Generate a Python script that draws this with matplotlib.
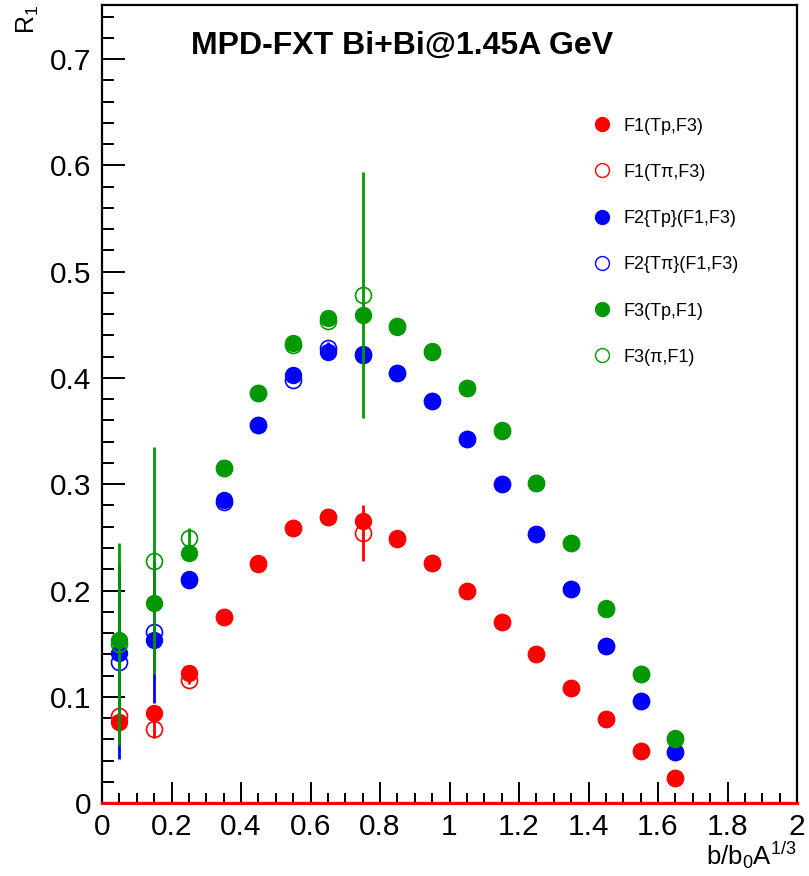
import matplotlib
matplotlib.use("Agg")
import matplotlib.pyplot as plt
from matplotlib.lines import Line2D
from matplotlib.ticker import MultipleLocator
import numpy as np

plt.rcParams['font.family'] = ['Liberation Sans', 'DejaVu Sans']
plt.rcParams['mathtext.fontset'] = 'custom'
plt.rcParams['mathtext.rm'] = 'Liberation Sans'
plt.rcParams['mathtext.it'] = 'Liberation Sans'

# centrality bins, b/b0A^(1/3)
b = [0.05, 0.15, 0.25, 0.35, 0.45, 0.55, 0.65, 0.75, 0.85,
     0.95, 1.05, 1.15, 1.25, 1.35, 1.45, 1.55, 1.65]

# F1 resolution
f1_tp = [0.076, 0.085, 0.122, 0.175, 0.226, 0.259, 0.269, 0.265, 0.249,
         0.226, 0.200, 0.170, 0.140, 0.108, 0.079, 0.049, 0.024]
f1_tpi = [0.082, 0.070, 0.116, 0.175, 0.225, 0.259, 0.269, 0.254, 0.248,
          0.226, 0.200, 0.170, 0.140, 0.108, 0.079, 0.049, 0.024]
f1_tpi_err = [0.004, 0.009, 0.004, 0.003, 0.003, 0.003, 0.003, 0.026, 0.003,
              0.003, 0.003, 0.003, 0.003, 0.003, 0.003, 0.003, 0.003]

# F2 resolution
f2_tp = [0.141, 0.153, 0.211, 0.285, 0.356, 0.403, 0.424, 0.423, 0.405,
         0.378, 0.343, 0.300, 0.253, 0.201, 0.148, 0.096, 0.048]
f2_tpi = [0.133, 0.161, 0.210, 0.283, 0.356, 0.398, 0.428, 0.422, 0.405,
          0.378, 0.343, 0.300, 0.253, 0.201, 0.148, 0.096, 0.048]
f2_tpi_err = [0.092, 0.067, 0.004, 0.003, 0.003, 0.003, 0.006, 0.003, 0.003,
              0.003, 0.003, 0.003, 0.003, 0.003, 0.003, 0.003, 0.003]

# F3 resolution
f3_tp = [0.153, 0.188, 0.235, 0.315, 0.386, 0.433, 0.456, 0.459, 0.448,
         0.425, 0.391, 0.351, 0.301, 0.245, 0.184, 0.121, 0.061]
f3_pi = [0.150, 0.228, 0.249, 0.315, 0.386, 0.431, 0.454, 0.478, 0.449,
         0.424, 0.391, 0.350, 0.301, 0.245, 0.183, 0.121, 0.060]
f3_pi_err = [0.095, 0.107, 0.010, 0.003, 0.003, 0.003, 0.004, 0.116, 0.003,
             0.003, 0.003, 0.003, 0.003, 0.003, 0.003, 0.003, 0.003]

labels = ['F1(Tp,F3)', 'F1(T\u03c0,F3)', 'F2{Tp}(F1,F3)',
          'F2{T\u03c0}(F1,F3)', 'F3(Tp,F1)', 'F3(\u03c0,F1)']

red, blue, green = '#ff0000', '#0000ff', '#009900'

fig = plt.figure(figsize=(8.09, 8.76), dpi=100)
ax = fig.add_axes([0.1261, 0.0833, 0.8591, 0.9110])

ms = 11.5
series = [
    (f1_tpi, f1_tpi_err, red, f1_tp),
    (f2_tpi, f2_tpi_err, blue, f2_tp),
    (f3_pi, f3_pi_err, green, f3_tp),
]
z = 3
for opn, err, c, fil in series:
    ax.errorbar(b, opn, yerr=err, fmt='o', ms=ms, mfc='none', mec=c, mew=1.2,
                ecolor=c, elinewidth=2, capsize=0, zorder=z)
    ax.plot(b, fil, 'o', ms=ms, color=c, mec=c, zorder=z + 1)
    z += 2

ax.axhline(0, color=red, lw=2.2, zorder=10, clip_on=False)

ax.set_xlim(0, 2)
ax.set_ylim(0, 0.751)
ax.xaxis.set_minor_locator(MultipleLocator(0.05))
ax.yaxis.set_minor_locator(MultipleLocator(0.02))
ax.set_xticks(np.arange(0, 2.01, 0.2))
ax.set_xticklabels(['0', '0.2', '0.4', '0.6', '0.8', '1', '1.2', '1.4', '1.6', '1.8', '2'])
ax.set_yticks(np.arange(0, 0.71, 0.1))
ax.set_yticklabels(['0', '0.1', '0.2', '0.3', '0.4', '0.5', '0.6', '0.7'])
ax.tick_params(axis='both', which='both', direction='in', top=False, right=False,
               labelsize=21.5, width=1.4)
ax.tick_params(axis='x', which='major', length=15, pad=7)
ax.tick_params(axis='x', which='minor', length=7.5)
ax.tick_params(axis='y', which='major', length=16.5, pad=8)
ax.tick_params(axis='y', which='minor', length=8.5)
for s in ax.spines.values():
    s.set_linewidth(1.6)

fig.text(0.497, 0.948, 'MPD-FXT Bi+Bi@1.45A GeV', fontsize=23, fontweight='bold',
         ha='center', va='center')
fig.text(0.985, 0.0125, r'b/b$_0$A$^{1/3}$', fontsize=18.5, ha='right', va='baseline')
fig.text(0.018, 0.995, r'R$_1$', fontsize=18, rotation=90, ha='left', va='top')

handles = []
for c, filled in [(red, True), (red, False), (blue, True), (blue, False),
                  (green, True), (green, False)]:
    handles.append(Line2D([], [], ls='none', marker='o', ms=10,
                          mfc=c if filled else 'none', mec=c, mew=1))
ax.legend(handles, labels, loc='upper left', bbox_to_anchor=(0.693, 0.868),
          frameon=False, fontsize=13, labelspacing=1.62, handletextpad=0.6,
          handlelength=1.2, borderaxespad=0)

fig.savefig('out.png', dpi=100)
